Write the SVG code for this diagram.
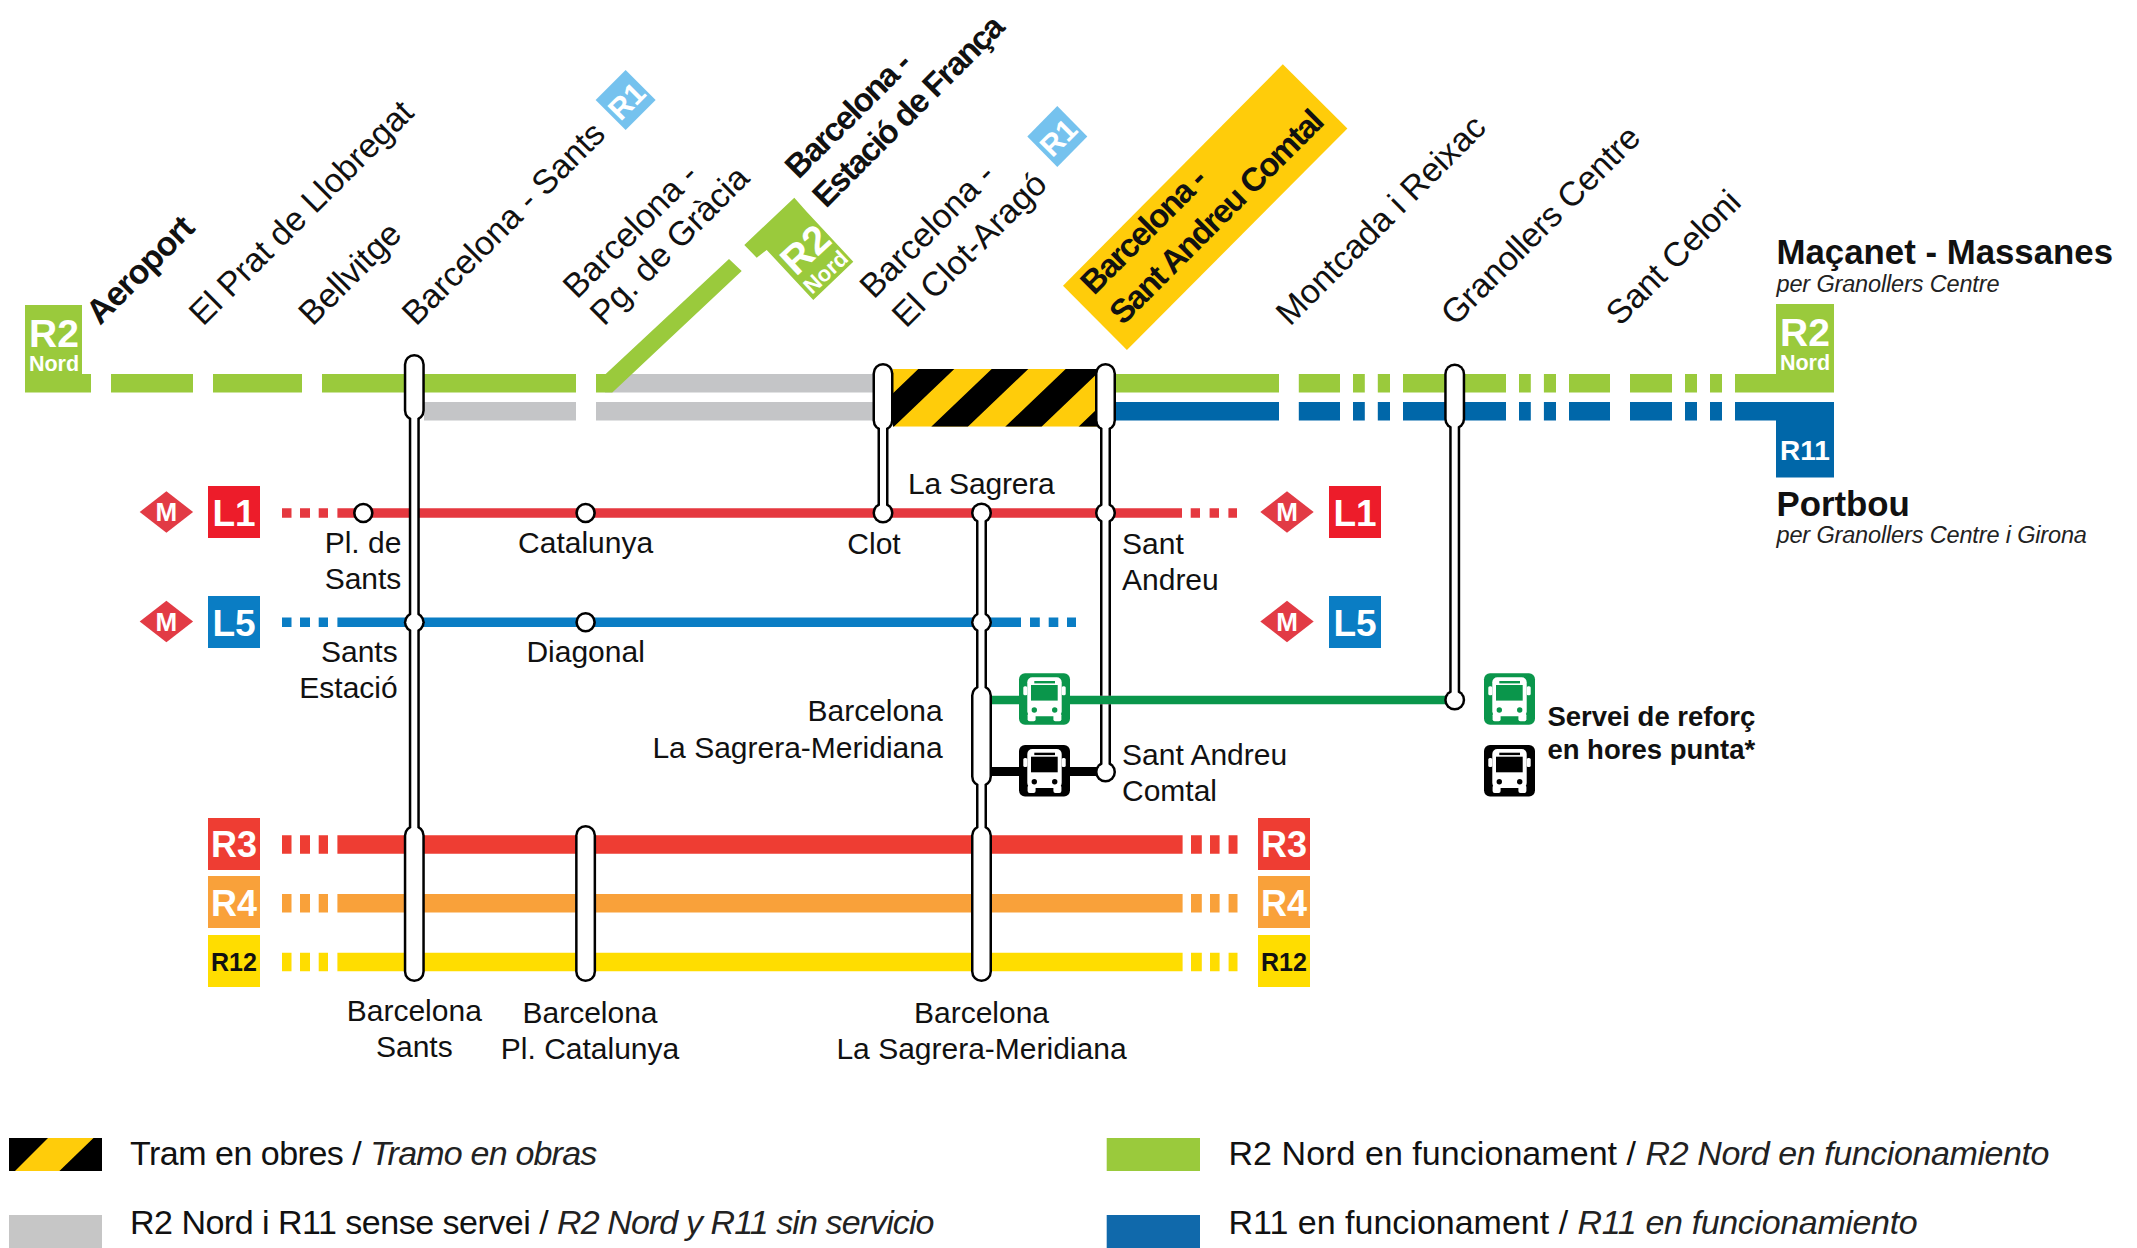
<svg xmlns="http://www.w3.org/2000/svg" xmlns:xlink="http://www.w3.org/1999/xlink" width="2137" height="1248" viewBox="0 0 2137 1248">
<style>
text{font-family:"Liberation Sans",Arial,Helvetica,sans-serif;fill:#111}
.t{font-size:30px}
.m{text-anchor:middle}
.e{text-anchor:end}
.r{font-size:34px}
.rb{font-size:33px;font-weight:bold;letter-spacing:-1.7px}
.b{font-weight:bold}
.lg{font-size:34px}
.i{font-style:italic;fill:#222}
.w{fill:#fff;font-weight:bold}
.sub{font-size:23.5px;font-style:italic;fill:#222;letter-spacing:-.15px}
.l{fill:none}
.thick{stroke-width:18.6}
.thin{stroke-width:9.5}
.so{stroke:#000;stroke-width:11;fill:none}
.si{stroke:#fff;stroke-width:6;fill:none}
.co{stroke:#000;stroke-width:21;stroke-linecap:round;fill:none}
.ci{stroke:#fff;stroke-width:16;stroke-linecap:round;fill:none}
.dot{fill:#fff;stroke:#000;stroke-width:2.6}
</style>
<defs>
<clipPath id="hz"><rect x="893" y="369" width="204" height="57.7"/></clipPath>
<g id="bus">
<rect width="51" height="51.5" rx="6" fill="currentColor"/>
<rect x="8.3" y="4" width="34.4" height="39" rx="5" fill="#fff"/>
<rect x="4.3" y="13" width="4" height="9" rx="1.5" fill="#fff"/>
<rect x="42.7" y="13" width="4" height="9" rx="1.5" fill="#fff"/>
<rect x="8.6" y="40" width="8" height="8" rx="2" fill="#fff"/>
<rect x="34.4" y="40" width="8" height="8" rx="2" fill="#fff"/>
<rect x="15.3" y="7.7" width="20.7" height="2.4" fill="currentColor"/>
<rect x="12" y="11.7" width="26.7" height="15.6" fill="currentColor"/>
<circle cx="15.3" cy="36.7" r="2.7" fill="currentColor"/>
<circle cx="35.7" cy="36.7" r="2.7" fill="currentColor"/>
</g>
<path id="mdia" d="M0-20.7L26.7 0L0 20.7L-26.7 0Z" fill="#E23B45"/>
</defs>

<g id="connectors">
<path class="l thick" stroke="#C4C5C7" d="M605 383.2H873M424 411.2H576M596 411.2H873"/>
<path class="l thick" stroke="#9ACA3C" d="M25 383.2H91M111 383.2H193M213 383.2H302M322 383.2H576M1105 383.2H1279M1298.8 383.2H1340M1353 383.2H1364.8M1377.8 383.2H1390M1403 383.2H1506M1519 383.2H1530.8M1543.9 383.2H1556M1569 383.2H1610M1630 383.2H1672M1685 383.2H1697M1710 383.2H1722M1735 383.2H1834"/>
<path fill="#9ACA3C" d="M596 374H605.7L729 259L741.7 271L612.3 392.5H596Z"/>
<path fill="#9ACA3C" d="M794.3 197.7L744.3 245L756.7 257.7L766.7 250L813.3 300L853.3 261.7L806.7 211.7Z"/>
<path class="l thick" stroke="#0067A9" d="M1105 411.2H1279M1298.8 411.2H1340M1353 411.2H1364.8M1377.8 411.2H1390M1403 411.2H1506M1519 411.2H1530.8M1543.9 411.2H1556M1569 411.2H1610M1630 411.2H1672M1685 411.2H1697M1710 411.2H1722M1735 411.2H1834"/>
<g id="hazard" clip-path="url(#hz)">
<rect x="893" y="369" width="204" height="57.7" fill="#FFCC0A"/>
<path d="M918.3 369H954.3L893.8 426.7H857.8ZM991.7 369H1028.3L967.8 426.7H931.2ZM1065.7 369H1102L1041.5 426.7H1005.2ZM1139 369H1176L1115.5 426.7H1078.5Z" fill="#000"/>
</g>
<path class="l thin" stroke="#E5383F" d="M282 513H291.5M300 513H310M318.7 513H328M337.4 513H1182M1190.7 513H1200M1209.6 513H1219M1228.4 513H1237"/>
<path class="l thin" stroke="#0A7DC4" d="M282 622.3H291.5M300 622.3H310M318.7 622.3H328M337.4 622.3H1021M1030 622.3H1039.8M1048.7 622.3H1058.3M1067 622.3H1076"/>
<path class="l thick" stroke="#EE3D33" d="M282 844.5H291.5M300 844.5H310M318.7 844.5H328M337.4 844.5H1182.6M1191 844.5H1201.8M1210 844.5H1219.6M1228.6 844.5H1237.5"/>
<path class="l thick" stroke="#F9A13A" d="M282 903.3H291.5M300 903.3H310M318.7 903.3H328M337.4 903.3H1182.6M1191 903.3H1201.8M1210 903.3H1219.6M1228.6 903.3H1237.5"/>
<path class="l thick" stroke="#FFDD00" d="M282 962H291.5M300 962H310M318.7 962H328M337.4 962H1182.6M1191 962H1201.8M1210 962H1219.6M1228.6 962H1237.5"/>
<path class="l" stroke="#0A964B" stroke-width="8.6" d="M985 700H1450"/>
<path class="l" stroke="#000" stroke-width="9" d="M985 771.5H1100"/>
</g>

<g id="station-sants">
<path class="so" d="M414.3 360V900"/><circle cx="414.3" cy="622.3" r="10.5" fill="#000"/><path class="co" d="M414.3 364.5V410.5M414.3 835.5V971.5"/>
<path class="si" d="M414.3 360V900"/><circle cx="414.3" cy="622.3" r="8" fill="#fff"/><path class="ci" d="M414.3 364.5V410.5M414.3 835.5V971.5"/>
</g>
<g id="station-pl-sants"><circle class="dot" cx="363.3" cy="513" r="9"/></g>
<g id="station-catalunya"><circle class="dot" cx="585.6" cy="513" r="9"/></g>
<g id="station-diagonal"><circle class="dot" cx="585.6" cy="622.3" r="9"/></g>
<g id="station-pl-catalunya"><path class="co" d="M585.6 835.5V971.5"/><path class="ci" d="M585.6 835.5V971.5"/></g>
<g id="station-clot">
<path class="so" d="M883 400V513"/><circle cx="883" cy="513" r="10.5" fill="#000"/><path class="co" d="M883 373.5V420.5"/>
<path class="si" d="M883 400V513"/><circle cx="883" cy="513" r="8" fill="#fff"/><path class="ci" d="M883 373.5V420.5"/>
</g>
<g id="station-sagrera">
<path class="so" d="M981.5 513V900"/><circle cx="981.5" cy="513" r="10.5" fill="#000"/><circle cx="981.5" cy="622.3" r="10.5" fill="#000"/><path class="co" d="M981.5 695.5V776.5M981.5 835.5V971.5"/>
<path class="si" d="M981.5 513V900"/><circle cx="981.5" cy="513" r="8" fill="#fff"/><circle cx="981.5" cy="622.3" r="8" fill="#fff"/><path class="ci" d="M981.5 695.5V776.5M981.5 835.5V971.5"/>
</g>
<g id="station-sant-andreu">
<path class="so" d="M1105.5 400V695.7M1105.5 704.3V772"/><circle cx="1105.5" cy="513" r="10.5" fill="#000"/><circle cx="1105.5" cy="772" r="10.5" fill="#000"/><path class="co" d="M1105.5 373.5V420.5"/>
<path class="si" d="M1105.5 400V695.7M1105.5 704.3V772"/><circle cx="1105.5" cy="513" r="8" fill="#fff"/><circle cx="1105.5" cy="772" r="8" fill="#fff"/><path class="ci" d="M1105.5 373.5V420.5"/>
</g>
<g id="station-granollers">
<path class="so" d="M1454.7 400V700"/><circle cx="1454.7" cy="700" r="10.5" fill="#000"/><path class="co" d="M1454.7 374V419"/>
<path class="si" d="M1454.7 400V700"/><circle cx="1454.7" cy="700" r="8" fill="#fff"/><path class="ci" d="M1454.7 374V419"/>
</g>

<g id="bus-green-1" color="#0A964B"><use href="#bus" x="1019" y="673.3"/></g>
<g id="bus-black-1" color="#000"><use href="#bus" x="1019" y="745"/></g>
<g id="bus-green-2" color="#0A964B"><use href="#bus" x="1484" y="673.3"/></g>
<g id="bus-black-2" color="#000"><use href="#bus" x="1484" y="745"/></g>

<g id="badge-r2-left"><rect x="25" y="305" width="57" height="72" fill="#9ACA3C"/><text class="w m" x="54" y="347" font-size="39" style="fill:#fff">R2</text><text class="w m" x="54" y="370.5" font-size="21.5" style="fill:#fff">Nord</text></g>
<g id="badge-r2-right"><rect x="1776" y="304" width="58" height="72" fill="#9ACA3C"/><text class="w m" x="1805" y="346" font-size="39" style="fill:#fff">R2</text><text class="w m" x="1805" y="369.5" font-size="21.5" style="fill:#fff">Nord</text></g>
<g id="badge-r11"><rect x="1776" y="402" width="58" height="75.5" fill="#0067A9"/><text class="w m" x="1805" y="459.5" font-size="28" style="fill:#fff">R11</text></g>
<g id="badge-r2-diag"><text class="w" transform="translate(796 277) rotate(-43)" font-size="40" style="fill:#fff">R2</text><text class="w" transform="translate(812 295) rotate(-43)" font-size="22" style="fill:#fff">Nord</text></g>

<g id="badge-r1-a"><path d="M625.6 70L655.6 100L625.6 130L595.6 100Z" fill="#75C2EE"/><text class="w m" transform="translate(634 108.5) rotate(-45)" font-size="30" style="fill:#fff">R1</text></g>
<g id="badge-r1-b"><path d="M1057.3 106L1087.3 136.5L1057.3 167L1027.3 136.5Z" fill="#75C2EE"/><text class="w m" transform="translate(1065.7 145) rotate(-45)" font-size="30" style="fill:#fff">R1</text></g>

<g id="metro-l1-left"><use href="#mdia" x="166.4" y="512"/><text class="w m" x="166.4" y="521" font-size="26" style="fill:#fff">M</text></g>
<g id="metro-l5-left"><use href="#mdia" x="166.4" y="621.5"/><text class="w m" x="166.4" y="630.5" font-size="26" style="fill:#fff">M</text></g>
<g id="metro-l1-right"><use href="#mdia" x="1287" y="512"/><text class="w m" x="1287" y="521" font-size="26" style="fill:#fff">M</text></g>
<g id="metro-l5-right"><use href="#mdia" x="1287" y="621.5"/><text class="w m" x="1287" y="630.5" font-size="26" style="fill:#fff">M</text></g>
<g id="badge-l1-left"><rect x="208" y="486" width="52" height="52" fill="#ED1C2A"/><text class="w m" x="234" y="525.5" font-size="37" style="fill:#fff">L1</text></g>
<g id="badge-l5-left"><rect x="208" y="596" width="52" height="52" fill="#0A7DC4"/><text class="w m" x="234" y="635.5" font-size="37" style="fill:#fff">L5</text></g>
<g id="badge-l1-right"><rect x="1329" y="486" width="52" height="52" fill="#ED1C2A"/><text class="w m" x="1355" y="525.5" font-size="37" style="fill:#fff">L1</text></g>
<g id="badge-l5-right"><rect x="1329" y="596" width="52" height="52" fill="#0A7DC4"/><text class="w m" x="1355" y="635.5" font-size="37" style="fill:#fff">L5</text></g>
<g id="badge-r3-left"><rect x="208" y="818" width="52" height="52" fill="#EE3D33"/><text class="w m" x="234" y="857" font-size="36" style="fill:#fff">R3</text></g>
<g id="badge-r4-left"><rect x="208" y="876" width="52" height="52" fill="#F9A13A"/><text class="w m" x="234" y="915.5" font-size="36" style="fill:#fff">R4</text></g>
<g id="badge-r12-left"><rect x="208" y="935" width="52" height="52" fill="#FFDD00"/><text class="b m" x="234" y="971" font-size="25">R12</text></g>
<g id="badge-r3-right"><rect x="1258" y="818" width="52" height="52" fill="#EE3D33"/><text class="w m" x="1284" y="857" font-size="36" style="fill:#fff">R3</text></g>
<g id="badge-r4-right"><rect x="1258" y="876" width="52" height="52" fill="#F9A13A"/><text class="w m" x="1284" y="915.5" font-size="36" style="fill:#fff">R4</text></g>
<g id="badge-r12-right"><rect x="1258" y="935" width="52" height="52" fill="#FFDD00"/><text class="b m" x="1284" y="971" font-size="25">R12</text></g>

<g id="tag-sant-andreu-comtal"><path d="M1282.8 64.3L1347.4 128.6L1126.9 350L1063 285.7Z" fill="#FFCC0A"/></g>

<g id="labels-rotated">
<text class="rb" style="font-size:34px;letter-spacing:-1px" transform="translate(100 326) rotate(-45)">Aeroport</text>
<text class="r" transform="translate(203 327) rotate(-45)">El Prat de Llobregat</text>
<text class="r" transform="translate(312.6 327) rotate(-45)">Bellvitge</text>
<text class="r" transform="translate(416 327) rotate(-45)">Barcelona - Sants</text>
<text class="r" transform="translate(577 300) rotate(-45)">Barcelona -</text>
<text class="r" transform="translate(604 327) rotate(-45)">Pg. de Gràcia</text>
<text class="rb" transform="translate(798.6 180) rotate(-45)">Barcelona -</text>
<text class="rb" transform="translate(826 209) rotate(-45)">Estació de França</text>
<text class="r" transform="translate(873.7 300) rotate(-45)">Barcelona -</text>
<text class="r" transform="translate(906 329) rotate(-45)">El Clot-Aragó</text>
<text class="rb" transform="translate(1094 296) rotate(-45)">Barcelona -</text>
<text class="rb" transform="translate(1123 326) rotate(-45)">Sant Andreu Comtal</text>
<text class="r" transform="translate(1290 327) rotate(-45)">Montcada i Reixac</text>
<text class="r" style="letter-spacing:-.2px" transform="translate(1455 327) rotate(-45)">Granollers Centre</text>
<text class="r" style="letter-spacing:-.2px" transform="translate(1620 327) rotate(-45)">Sant Celoni</text>
</g>

<g id="labels-terminals">
<text class="b" x="1776.5" y="263.5" font-size="34.8">Maçanet - Massanes</text>
<text class="sub" x="1776.5" y="292">per Granollers Centre</text>
<text class="b" x="1776.5" y="515.5" font-size="34.8">Portbou</text>
<text class="sub" x="1776.5" y="542.8">per Granollers Centre i Girona</text>
</g>

<g id="labels-stations">
<text class="t m" x="363" y="553.3">Pl. de</text><text class="t m" x="363" y="589">Sants</text>
<text class="t m" x="585.6" y="553.3">Catalunya</text>
<text class="t m" x="874" y="554">Clot</text>
<text class="t" x="908" y="494.3" style="letter-spacing:-.2px">La Sagrera</text>
<text class="t" x="1122" y="554">Sant</text><text class="t" x="1122" y="590">Andreu</text>
<text class="t e" x="397.7" y="662">Sants</text><text class="t e" x="397.7" y="698">Estació</text>
<text class="t m" x="585.6" y="662">Diagonal</text>
<text class="t e" x="942.6" y="721">Barcelona</text><text class="t e" x="942.6" y="757.5">La Sagrera-Meridiana</text>
<text class="t" x="1122" y="765">Sant Andreu</text><text class="t" x="1122" y="801">Comtal</text>
<text class="t m" x="414.3" y="1021">Barcelona</text><text class="t m" x="414.3" y="1057">Sants</text>
<text class="t m" x="590" y="1023">Barcelona</text><text class="t m" x="590" y="1058.5">Pl. Catalunya</text>
<text class="t m" x="981.5" y="1022.7">Barcelona</text><text class="t m" x="981.5" y="1058.5">La Sagrera-Meridiana</text>
<text class="b" x="1547.4" y="726" font-size="27.5">Servei de reforç</text>
<text class="b" x="1547.4" y="759" font-size="27.5">en hores punta*</text>
</g>

<g id="legend">
<rect x="9" y="1138" width="93" height="33" fill="#000"/>
<path d="M48 1138H93.5L59.4 1171H15Z" fill="#FFCC0A"/>
<text class="lg" x="130" y="1165" letter-spacing="-.5">Tram en obres / <tspan class="i" letter-spacing="-.8">Tramo en obras</tspan></text>
<rect x="9" y="1215" width="93" height="33" fill="#C6C6C6"/>
<text class="lg" x="130" y="1234" letter-spacing="-.5">R2 Nord i R11 sense servei / <tspan class="i" letter-spacing="-.9">R2 Nord y R11 sin servicio</tspan></text>
<rect x="1106.7" y="1138" width="93.3" height="33" fill="#9ACA3C"/>
<text class="lg" x="1228.5" y="1165" letter-spacing=".05">R2 Nord en funcionament / <tspan class="i" letter-spacing="-.42">R2 Nord en funcionamiento</tspan></text>
<rect x="1106.7" y="1215" width="93.3" height="33" fill="#1069AB"/>
<text class="lg" x="1228.5" y="1234" letter-spacing="0">R11 en funcionament / <tspan class="i" letter-spacing="-.35">R11 en funcionamiento</tspan></text>
</g>
</svg>
